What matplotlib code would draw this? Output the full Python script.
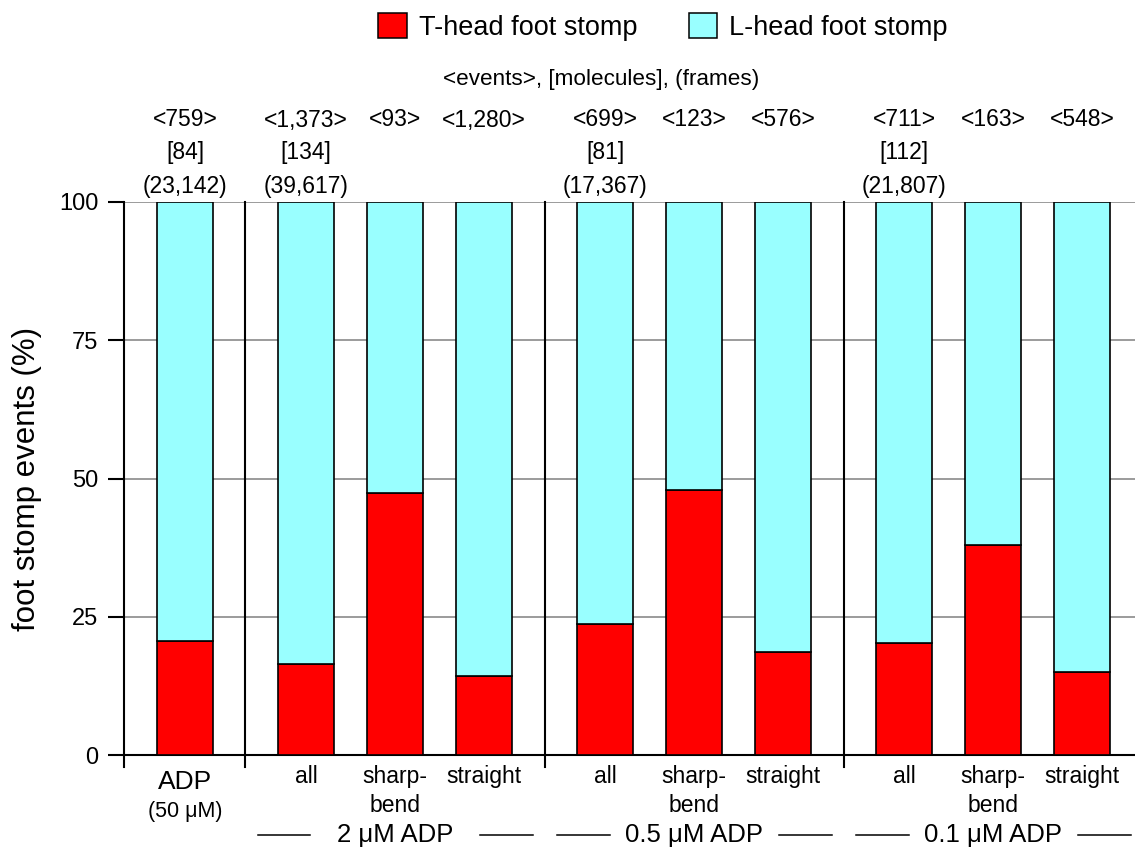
import matplotlib
matplotlib.use('Agg')
import matplotlib.pyplot as plt
import matplotlib.transforms as mtransforms
from matplotlib.patches import Patch

plt.rcParams['font.family'] = ['Liberation Sans', 'DejaVu Sans']

# data
group_sizes = [1, 3, 3, 3]
group_names = [None, '2 μM ADP', '0.5 μM ADP', '0.1 μM ADP']
bar_labels = ['ADP', 'all', 'sharp-\nbend', 'straight',
              'all', 'sharp-\nbend', 'straight',
              'all', 'sharp-\nbend', 'straight']
t_head = [20.7, 16.5, 47.3, 14.2, 23.7, 48.0, 18.6, 20.3, 38.0, 15.0]
l_head = [100 - v for v in t_head]
events = ['<759>', '<1,373>', '<93>', '<1,280>', '<699>', '<123>', '<576>', '<711>', '<163>', '<548>']
molecules = ['[84]', '[134]', '', '', '[81]', '', '', '[112]', '', '']
frames = ['(23,142)', '(39,617)', '', '', '(17,367)', '', '', '(21,807)', '', '']

RED = '#ff0000'
CYAN = '#99ffff'

# bar positions: step 1 inside a group, a wider step between groups
gap = 0.36
pos = []
seps = []
x = 0.0
for gi, n in enumerate(group_sizes):
    for i in range(n):
        pos.append(x)
        x += 1
    if gi < len(group_sizes) - 1:
        seps.append(pos[-1] + (1 + gap) / 2)
    x += gap

W, H = 1135, 851
fig = plt.figure(figsize=(W / 100, H / 100), dpi=100)
ax_bottom, ax_top = 755, 202
ax = fig.add_axes([124 / W, 1 - ax_bottom / H, 1 - 124 / W, (ax_bottom - ax_top) / H])


def ay(ypx):
    # pixel row -> axes fraction
    return (ax_bottom - ypx) / (ax_bottom - ax_top)


bw = 0.63
ax.bar(pos, t_head, width=bw, color=RED, edgecolor='black', linewidth=1.2, zorder=3)
ax.bar(pos, l_head, width=bw, bottom=t_head, color=CYAN, edgecolor='black', linewidth=1.2, zorder=3)

ax.set_ylim(0, 100)
ax.set_xlim(-0.685, 10.674)
ax.set_yticks([0, 25, 50, 75, 100])
ax.yaxis.grid(True, color='#808080', linewidth=1.1, zorder=0)
ax.set_axisbelow(True)
ax.tick_params(axis='y', direction='out', length=11.5, width=1.5, labelsize=17, pad=7)
ax.set_xticks([])
for s in ['top', 'right', 'left']:
    ax.spines[s].set_visible(False)
ax.spines['bottom'].set_linewidth(1.5)

fig.text(27 / W, 1 - (ax_bottom + ax_top) / 2 / H, 'foot stomp events (%)', rotation=90,
         ha='center', va='center', fontsize=22.5)

# y axis line and group separators, running a bit below the x axis
ext = ay(767)
ax.axvline(-0.685, ymin=ext, ymax=1, color='black', linewidth=1.5, clip_on=False, zorder=4)
for sx in seps:
    ax.axvline(sx, ymin=ext, ymax=1, color='black', linewidth=1.5, clip_on=False, zorder=4)

tr = mtransforms.blended_transform_factory(ax.transData, ax.transAxes)

# counts above the bars
for xp, e, m, f in zip(pos, events, molecules, frames):
    ax.text(xp, ay(120), e, transform=tr, ha='center', va='center', fontsize=16.5)
    if m:
        ax.text(xp, ay(153), m, transform=tr, ha='center', va='center', fontsize=16.5)
    if f:
        ax.text(xp, ay(187), f, transform=tr, ha='center', va='center', fontsize=16.5)

fig.text(601 / W, 1 - 80 / H, '<events>, [molecules], (frames)',
         ha='center', va='center', fontsize=16.2)

# category labels under the bars
for i, (xp, lab) in enumerate(zip(pos, bar_labels)):
    if i == 0:
        ax.text(xp, ay(789), lab, transform=tr, ha='center', va='baseline', fontsize=19)
        ax.text(xp, ay(817), '(50 μM)', transform=tr, ha='center', va='baseline', fontsize=15.5)
        continue
    for j, line in enumerate(lab.split('\n')):
        ax.text(xp, ay(783 + 29 * j), line, transform=tr, ha='center', va='baseline', fontsize=16.5)

# group labels with rules on both sides
start = 0
for n, name in zip(group_sizes, group_names):
    centre = pos[start + n // 2]
    start += n
    if name is None:
        continue
    ax.text(centre, ay(842), name, transform=tr, ha='center', va='baseline', fontsize=18.5)
    for a, b in [(-1.54, -0.95), (0.95, 1.55)]:
        ax.plot([centre + a, centre + b], [ay(835)] * 2, transform=tr, color='black',
                linewidth=1.1, clip_on=False)

handles = [Patch(facecolor=RED, edgecolor='black', linewidth=1.1, label='T-head foot stomp'),
           Patch(facecolor=CYAN, edgecolor='black', linewidth=1.1, label='L-head foot stomp')]
fig.legend(handles=handles, loc='center', bbox_to_anchor=(663 / W, 1 - 27 / H), ncol=2,
           frameon=False, fontsize=19.5, handlelength=1.05, handleheight=1.0,
           handletextpad=0.45, columnspacing=1.9, borderpad=0)

fig.savefig('out.png', dpi=100)
